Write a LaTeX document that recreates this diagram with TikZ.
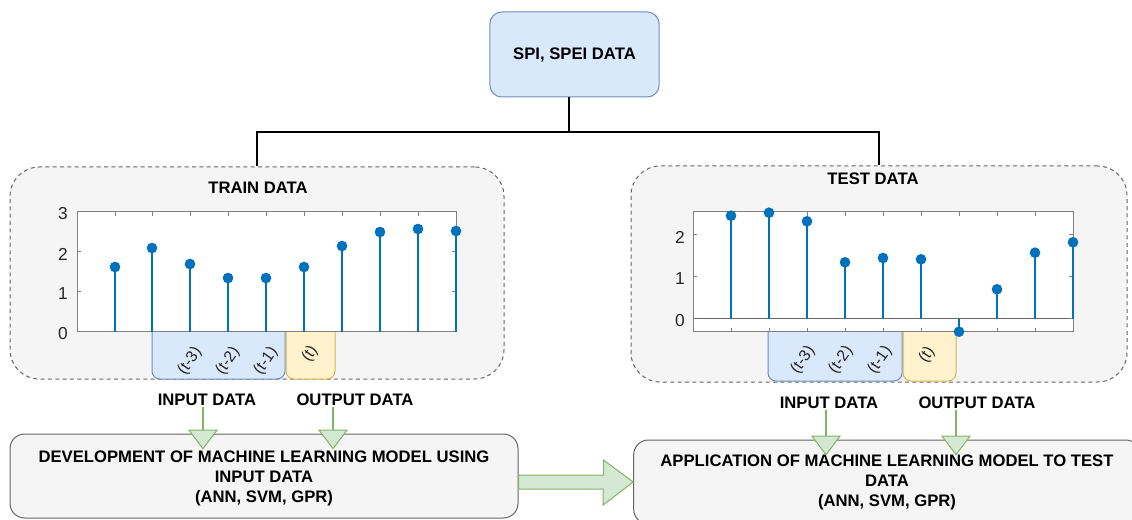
\documentclass[tikz,border=0pt]{standalone}
\usepackage{fontspec}
\setmainfont{Liberation Sans}
\usetikzlibrary{arrows.meta,calc}

\definecolor{bluefill}{HTML}{DAE8FC}
\definecolor{blueline}{HTML}{6C8EBF}
\definecolor{yellowfill}{HTML}{FFF2CC}
\definecolor{yellowline}{HTML}{D6B656}
\definecolor{greenfill}{HTML}{D5E8D4}
\definecolor{greenline}{HTML}{82B366}
\definecolor{greyfill}{HTML}{F5F5F5}
\definecolor{greyline}{HTML}{666666}
\definecolor{axisgrey}{HTML}{808080}
\definecolor{stemblue}{HTML}{0072BD}

\tikzset{every picture/.style={line width=0.75pt}}
\tikzset{
  lbl/.style={font=\fontsize{12.5}{15}\selectfont\bfseries, inner sep=0.75pt, align=center},
  ticklbl/.style={font=\fontsize{13}{15}\selectfont, text=black!85, inner sep=0.75pt},
  lag/.style={font=\fontsize{12}{13}\selectfont, text=black!85, rotate=55, inner sep=0pt},
  databox/.style={draw=greyline, fill=greyfill, dash pattern=on 3pt off 2.5pt, rounded corners=22pt},
  stepbox/.style={draw=greyline, fill=greyfill, rounded corners=11pt},
  stem/.style={draw=stemblue, line width=1.5pt},
  dot/.style={circle, fill=stemblue, inner sep=0pt, minimum size=8pt},
  tree/.style={line width=1.5pt},
  flow/.style={draw=greenline, line width=1.5pt, shorten >=-12pt,
    -{Triangle[width=22.5pt,length=15pt,fill=greenfill,line width=0.75pt]}},
}

\begin{document}
\begin{tikzpicture}[x=0.75pt,y=0.75pt,yscale=-1,xscale=1]
\useasboundingbox (0,0) rectangle (1132,520);
\clip (0,0) rectangle (1132,520);

% Rounded Rect
\draw (574.5,54.5) node [draw=blueline, fill=bluefill, rounded corners=9pt, minimum width=127pt, minimum height=63.75pt, lbl] (spi) {SPI, SPEI DATA};

% Rounded Rect (dashed)
\draw (257,273) node [databox, minimum width=370.5pt, minimum height=159pt] (train) {};
\draw (879,274) node [databox, minimum width=372pt, minimum height=162pt] (test) {};

% Straight Lines
\coordinate (hub) at (569,132);
\draw[tree] (spi.south -| hub) -- (hub);
\draw[tree] (train.north) |- (hub) -| (test.north);

% Text Node
\draw (258,188) node [lbl] (trainT) {TRAIN DATA};
% Text Node
\draw (873,179) node [lbl] (testT) {TEST DATA};

%%% train plot
\fill[white] (77,212) rectangle (456,332);
\filldraw[fill=bluefill, draw=blueline, rounded corners=6pt] (152,332) -- (152,379) -- (285,379) -- (285,332);
\filldraw[fill=yellowfill, draw=yellowline, rounded corners=6pt] (286,332) -- (286,379) -- (335,379) -- (335,332);
\draw[axisgrey] (77,212) rectangle (456,332);
\foreach \y in {252,292} {
  \draw[axisgrey] (77,\y) -- (81,\y);
  \draw[axisgrey] (456,\y) -- (452,\y);
}
\foreach \x in {115,152,190,228,266,304,342,380,418} {
  \draw[axisgrey] (\x,212) -- (\x,216);
  \draw[axisgrey] (\x,332) -- (\x,328);
}
\draw (63,214) node [ticklbl] {3};
\draw (63,254) node [ticklbl] {2};
\draw (63,294) node [ticklbl] {1};
\draw (63,334) node [ticklbl] {0};

\draw[stem] (115,332) -- (115,267) node [dot] {};
\draw[stem] (152,332) -- (152,248) node [dot] {};
\draw[stem] (190,332) -- (190,264) node [dot] {};
\draw[stem] (228,332) -- (228,278) node [dot] {};
\draw[stem] (266,332) -- (266,278) node [dot] {};
\draw[stem] (304,332) -- (304,267) node [dot] {};
\draw[stem] (342,332) -- (342,246) node [dot] {};
\draw[stem] (380,332) -- (380,232) node [dot] {};
\draw[stem] (418,332) -- (418,229) node [dot] {};
\draw[stem] (456,332) -- (456,231) node [dot] {};

\draw (190,361) node [lag] {(t-3)};
\draw (228,361) node [lag] {(t-2)};
\draw (266,361) node [lag] {(t-1)};
\draw (310,354) node [lag] {(t)};

%%% test plot
\fill[white] (693,212) rectangle (1073,332);
\filldraw[fill=bluefill, draw=blueline, rounded corners=6pt] (768,332) -- (768,381) -- (902,381) -- (902,332);
\filldraw[fill=yellowfill, draw=yellowline, rounded corners=6pt] (903,332) -- (903,381) -- (956,381) -- (956,332);
\draw[axisgrey] (693,212) rectangle (1073,332);
\draw[axisgrey!80!black] (693,319) -- (1073,319);
\foreach \y in {235,277,319} {
  \draw[axisgrey] (693,\y) -- (697,\y);
  \draw[axisgrey] (1073,\y) -- (1069,\y);
}
\foreach \x in {731,769,807,845,883,921,959,997,1035} {
  \draw[axisgrey] (\x,212) -- (\x,216);
  \draw[axisgrey] (\x,332) -- (\x,328);
}
\draw (680,237) node [ticklbl] {2};
\draw (680,279) node [ticklbl] {1};
\draw (680,321) node [ticklbl] {0};

\draw[stem] (731,319) -- (731,215.7) node [dot] {};
\draw[stem] (769,319) -- (769,212.7) node [dot] {};
\draw[stem] (807,319) -- (807,221.3) node [dot] {};
\draw[stem] (845,319) -- (845,262.3) node [dot] {};
\draw[stem] (883,319) -- (883,258) node [dot] {};
\draw[stem] (921,319) -- (921,259.3) node [dot] {};
\draw[stem] (959,319) -- (959,331.7) node [dot] {};
\draw[stem] (997,319) -- (997,289.3) node [dot] {};
\draw[stem] (1035,319) -- (1035,252.7) node [dot] {};
\draw[stem] (1073,319) -- (1073,242.3) node [dot] {};

\draw (803,360) node [lag] {(t-3)};
\draw (841,360) node [lag] {(t-2)};
\draw (880,360) node [lag] {(t-1)};
\draw (927,355) node [lag] {(t)};

%%% models
% Rounded Rect
\draw (264,476) node [stepbox, minimum width=381pt, minimum height=63pt] (dev) {};
\draw (887,482) node [stepbox, minimum width=380pt, minimum height=63pt] (app) {};
% Text Node
\draw (264,478) node [lbl] {DEVELOPMENT OF MACHINE LEARNING MODEL USING\\INPUT DATA\\(ANN, SVM, GPR)};
% Text Node
\draw (887,482) node [lbl] {APPLICATION OF MACHINE LEARNING MODEL TO TEST\\DATA\\(ANN, SVM, GPR)};

% Text Node
\draw (207,400) node [lbl] (inL) {INPUT DATA};
\draw (355,400) node [lbl] (outL) {OUTPUT DATA};
\draw (829,403) node [lbl] (inR) {INPUT DATA};
\draw (977,403) node [lbl] (outR) {OUTPUT DATA};

% Arrows
\draw[flow] ($(inL.south)+(-4,0)$) -- ($(inL.south |- dev.north)+(-4,0)$);
\draw[flow] ($(outL.south)+(-22,0)$) -- ($(outL.south |- dev.north)+(-22,0)$);
\draw[flow] ($(inR.south)+(-3,0)$) -- ($(inR.south |- app.north)+(-3,0)$);
\draw[flow] ($(outR.south)+(-21,0)$) -- ($(outR.south |- app.north)+(-21,0)$);

% Block Arrow
\draw[draw=greenline, fill=greenfill] ($(dev.east |- app.west)+(0,-7)$) -- ++(85,0) -- ++(0,-15) -- (app.west) -- ++(-30,23) -- ++(0,-16) -- ($(dev.east |- app.west)+(0,7)$) -- cycle;

\end{tikzpicture}
\end{document}
